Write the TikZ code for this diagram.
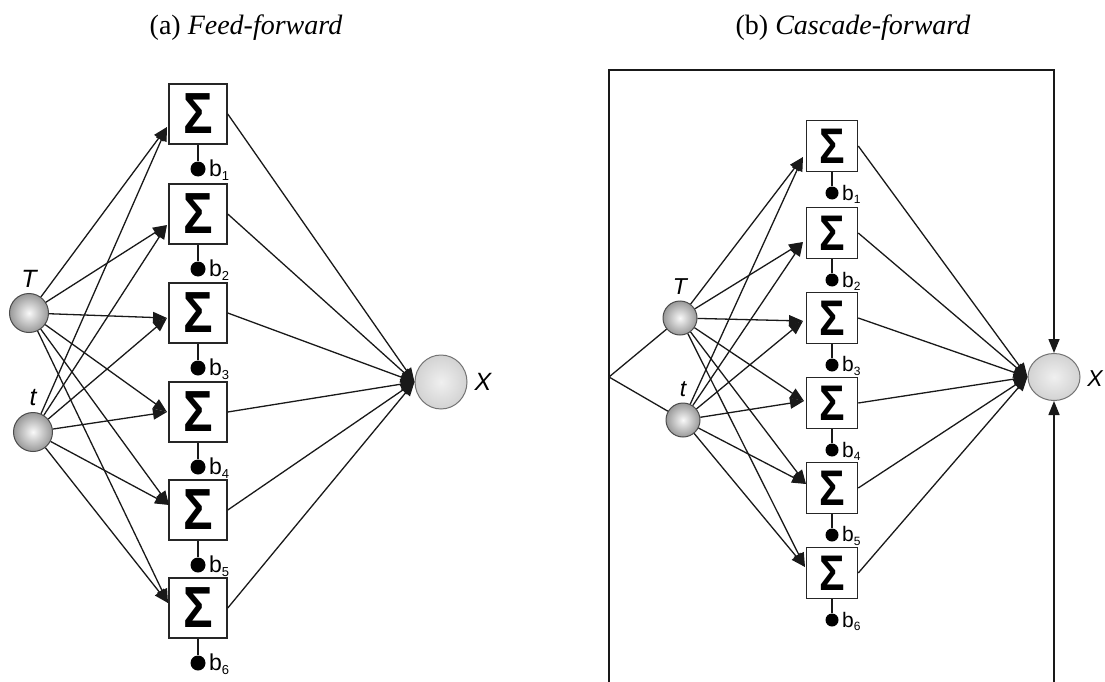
\documentclass[tikz,border=0pt]{standalone}
\usepackage{fontspec}
\usepackage{graphicx}
\setmainfont{Liberation Serif}
\setsansfont{Liberation Sans}
\usetikzlibrary{arrows.meta,shapes.geometric}
\newcommand{\SigmaGlyph}[1]{{\fontsize{#1}{#1}\selectfont\sffamily\bfseries\scalebox{0.85}[1]{Σ}}}
\begin{document}
\begin{tikzpicture}[x=1pt,y=-1pt,
  conn/.style={line width=1.3pt, draw=black!90},
  arr/.style={conn, -{Triangle[length=14pt,width=11pt]}},
  frameline/.style={line width=1.5pt, draw=black!90},
  sumA/.style={draw=black!85, line width=1.5pt, fill=white, minimum width=58pt, minimum height=60pt, inner sep=0pt},
  sumB/.style={draw=black!85, line width=1.5pt, fill=white, minimum width=51pt, minimum height=51pt, inner sep=0pt},
  dotA/.style={circle, fill=black, minimum size=15pt, inner sep=0pt},
  dotB/.style={circle, fill=black, minimum size=13pt, inner sep=0pt},
  ballA/.style={circle, draw=black!70, line width=1pt, inner color=gray!5, outer color=gray!80, minimum size=39pt, inner sep=0pt},
  ballB/.style={circle, draw=black!70, line width=1pt, inner color=gray!5, outer color=gray!80, minimum size=34pt, inner sep=0pt},
  outA/.style={ellipse, draw=black!55, line width=1pt, inner color=gray!12, outer color=gray!35, minimum width=52pt, minimum height=54pt, inner sep=0pt},
  outB/.style={ellipse, draw=black!55, line width=1pt, inner color=gray!12, outer color=gray!35, minimum width=52pt, minimum height=47pt, inner sep=0pt},
  blabA/.style={font=\sffamily\fontsize{23}{23}\selectfont, anchor=west, inner sep=0pt},
  blabB/.style={font=\sffamily\fontsize{21}{21}\selectfont, anchor=west, inner sep=0pt},
  varA/.style={font=\sffamily\itshape\fontsize{25}{25}\selectfont, inner sep=0pt},
  varB/.style={font=\sffamily\itshape\fontsize{23}{23}\selectfont, inner sep=0pt},
  ttl/.style={font=\fontsize{28}{28}\selectfont, inner sep=0pt}
]
\path[use as bounding box, fill=white] (0,0) rectangle (1105,682);

% titles
\node[ttl] (ta) at (246,28) {(a) \textit{Feed-forward}};
\node[ttl] (tb) at (853,28) {(b) \textit{Cascade-forward}};

% ---------- (a) feed-forward ----------
\node[ballA] (TA) at (29,313) {};
\node[ballA] (tA) at (33,432) {};
\node[varA] (TAl) at (29,279) {T};
\node[varA] (tAl) at (33,398) {t};
\node[outA] (XA) at (441,382) {};
\node[varA] (XAl) at (483,382) {X};

\foreach \i/\y in {1/114,2/214,3/313,4/412,5/510,6/608} {
  \node[sumA] (A\i) at (198,\y) {\SigmaGlyph{58}};
  \node[dotA] (da\i) at (198,\y+55) {};
  \draw[conn] (A\i.south) -- (da\i);
  \node[blabA] (la\i) at (209,\y+56) {b\textsubscript{\fontsize{13}{13}\selectfont\i}};
}
\foreach \i/\x/\y in {1/167/127,2/167/225,3/167/318,4/167/412,5/169/505,6/168/603}
  \coordinate (inA\i) at (\x,\y);
\foreach \i in {1,...,6} {
  \draw[arr] (TA) -- (inA\i);
  \draw[arr] (tA) -- (inA\i);
  \draw[arr] (A\i.east) -- (XA.west);
}

% ---------- (b) cascade-forward ----------
\node[ballB] (TB) at (680,318) {};
\node[ballB] (tB) at (683,420) {};
\node[varB] (TBl) at (680,287) {T};
\node[varB] (tBl) at (683,389) {t};
\node[outB] (XB) at (1054,377) {};
\node[varB] (XBl) at (1095,379) {X};

\foreach \i/\y in {1/146,2/233,3/318,4/403,5/488,6/573} {
  \node[sumB] (B\i) at (832,\y) {\SigmaGlyph{50}};
  \node[dotB] (db\i) at (832,\y+47) {};
  \draw[conn] (B\i.south) -- (db\i);
  \node[blabB] (lb\i) at (842,\y+48) {b\textsubscript{\fontsize{12}{12}\selectfont\i}};
}
\foreach \i/\x/\y in {1/803/157,2/803/242,3/803/321,4/804/401,5/806/484,6/805/567}
  \coordinate (inB\i) at (\x,\y);
\foreach \i in {1,...,6} {
  \draw[arr] (TB) -- (inB\i);
  \draw[arr] (tB) -- (inB\i);
  \draw[arr] (B\i.east) -- (XB.west);
}

% feedback frame
\coordinate (fbl) at (609,682);
\coordinate (ftl) at (609,70);
\coordinate (ftr) at (1054,70);
\coordinate (fbr) at (1054,682);
\coordinate (fin) at (609,377);
\draw[frameline, -{Triangle[length=14pt,width=11pt]}] (fbl) -- (ftl) -- (ftr) -- (XB.north);
\draw[frameline, -{Triangle[length=14pt,width=11pt]}] (fbr) -- (XB.south);
\draw[conn] (fin) -- (TB);
\draw[conn] (fin) -- (tB);
\end{tikzpicture}
\end{document}
